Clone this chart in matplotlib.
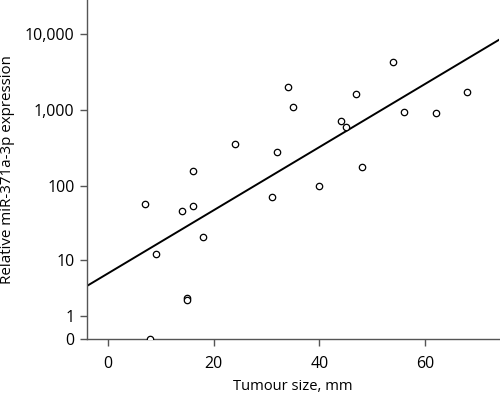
import numpy as np
import matplotlib
matplotlib.use('Agg')
import matplotlib.pyplot as plt
from matplotlib.ticker import FixedLocator, FuncFormatter

plt.rcParams['font.family'] = ['Open Sans', 'DejaVu Sans']

# data
tumour_size = [7, 9, 8, 24, 16, 14, 16, 18, 15, 15, 34, 35, 32, 31, 40,
               44, 45, 47, 48, 54, 56, 62, 68]
expression = [58, 12, 0, 355, 156, 46, 54, 20.5, 2.5, 2.3, 2000, 1080, 283,
              71, 100, 710, 600, 1600, 180, 4300, 940, 915, 1720]

# fitted line in log10(y+1) space
fit_intercept = 0.863
fit_slope = 0.0413

y_ticks = [0, 1, 10, 100, 1000, 10000]
x_ticks = [0, 20, 40, 60]


def fwd(y):
    return np.log10(np.clip(y, -0.999, None) + 1)


def inv(v):
    return 10 ** v - 1


fig = plt.figure(figsize=(5, 3.94), dpi=100)
ax = fig.add_axes([0.174, 0.139, 0.824, 0.861])
ax.set_yscale('function', functions=(fwd, inv))

xx = np.array([-4, 74])
ax.plot(xx, inv(fit_intercept + fit_slope * xx), color='black', lw=1.4)

ax.plot(tumour_size, expression, 'o', mfc='white', mec='black', mew=0.9,
        ms=4.6, ls='none', zorder=3)

ax.set_xlim(-4, 74)
ax.set_ylim(0, inv(4.44))
ax.yaxis.set_major_locator(FixedLocator(y_ticks))
ax.yaxis.set_minor_locator(FixedLocator([]))
ax.yaxis.set_major_formatter(FuncFormatter(lambda v, p: '{:,.0f}'.format(v)))
ax.set_xticks(x_ticks)

for s in ['top', 'right']:
    ax.spines[s].set_visible(False)
for s in ['left', 'bottom']:
    ax.spines[s].set_color('#555555')
    ax.spines[s].set_linewidth(1.0)
ax.tick_params(axis='both', direction='out', length=5, width=1.0,
               color='#555555', labelsize=11.5)
ax.tick_params(axis='x', pad=7)
ax.tick_params(axis='y', pad=4)

ax.set_xlabel('Tumour size, mm', fontsize=10.6, labelpad=5)
ax.set_ylabel('Relative miR-371a-3p expression', fontsize=10.9)
ax.yaxis.set_label_coords(-0.175, 0.5)

fig.savefig('out.png', dpi=100)
